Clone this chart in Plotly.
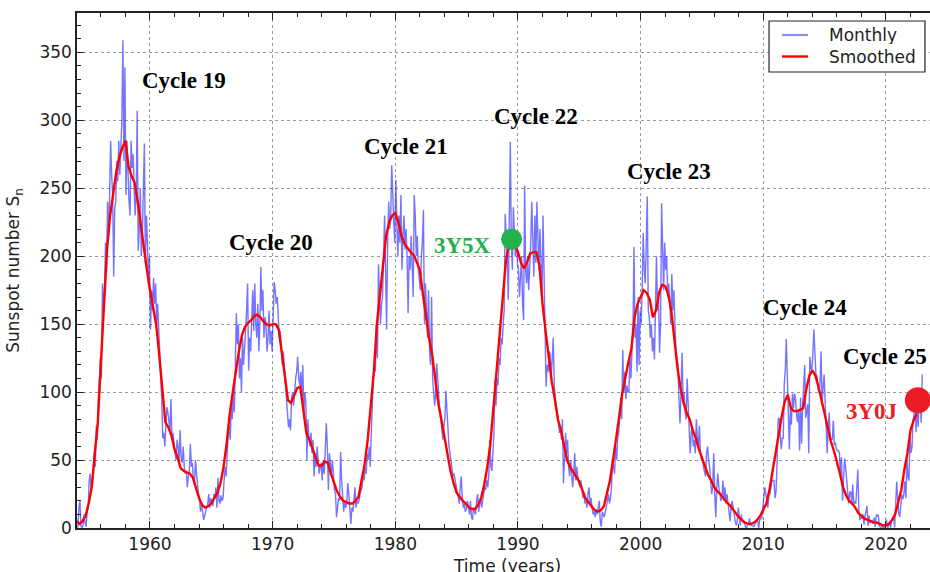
import plotly.graph_objects as go

# ---------------- data ----------------
# Monthly sunspot numbers, one value per month, blocks by decade
monthly_1950s = [  # 1954-1959
    0.3, 0.8, 15.0, 19.7, 1.3, 0.4, 1.8, 10.0, 3.8, 1.0, 11.3, 14.4,
    35, 40, 28, 32, 38, 55, 45, 75, 65, 95, 115, 125,
    110, 180, 160, 175, 210, 190, 240, 215, 245, 285, 260, 245,
    185, 235, 240, 270, 255, 285, 260, 285, 300, 359, 270, 339,
    245, 285, 260, 240, 230, 285, 265, 275, 250, 230, 245, 307,
    204, 220, 250, 200, 215, 240, 283, 195, 230, 210, 180, 200,
]
monthly_1960s = [
    146, 175, 160, 184, 165, 180, 150, 165, 140, 130, 110, 95,
    66, 70, 60, 75, 89, 85, 78, 72, 95, 65, 70, 60,
    55, 50, 65, 60, 47, 72, 52, 48, 60, 45, 40, 42,
    30, 38, 42, 62, 45, 48, 35, 32, 50, 40, 30, 25,
    20, 12, 18, 10, 6, 9, 12, 14, 18, 25, 15, 22,
    18, 16, 25, 22, 30, 15, 37, 20, 18, 24, 20, 22,
    35, 45, 38, 55, 70, 75, 65, 90, 80, 100, 85, 120,
    158, 135, 150, 110, 125, 100, 140, 120, 130, 145, 160, 180,
    116, 140, 130, 165, 175, 145, 180, 150, 140, 165, 130, 150,
    192, 160, 175, 140, 155, 150, 130, 140, 160, 135, 145, 130,
]
monthly_1970s = [
    150, 181, 175, 165, 170, 150, 140, 145, 135, 120, 130, 115,
    110, 95, 85, 74, 80, 72, 95, 100, 90, 105, 110, 115,
    126, 110, 105, 115, 95, 120, 85, 100, 92, 50, 80, 65,
    60, 70, 55, 65, 38, 55, 45, 60, 50, 40, 45, 48,
    35, 50, 40, 55, 77, 60, 28, 55, 45, 40, 50, 38,
    28, 25, 8, 15, 22, 20, 56, 35, 18, 12, 20, 15,
    18, 33, 25, 10, 3, 15, 12, 20, 30, 15, 20, 18,
    20, 25, 28, 30, 40, 35, 45, 40, 55, 50, 60, 45,
    70, 95, 110, 120, 115, 150, 125, 194, 160, 150, 165, 170,
    200, 230, 190, 146, 210, 240, 220, 230, 267, 240, 225, 210,
]
monthly_1980s = [
    256, 225, 200, 230, 210, 245, 190, 215, 230, 205, 220, 200,
    158, 200, 190, 215, 185, 170, 245, 230, 200, 215, 190, 180,
    175, 200, 210, 234, 150, 180, 160, 140, 175, 130, 120, 170,
    110, 95, 90, 100, 121, 110, 95, 85, 80, 70, 65, 75,
    80, 101, 85, 70, 60, 55, 48, 42, 38, 40, 35, 30,
    25, 20, 18, 30, 38, 22, 15, 18, 12, 14, 20, 16,
    10, 20, 8, 6, 15, 12, 10, 20, 25, 12, 18, 22,
    15, 20, 25, 30, 28, 35, 30, 40, 65, 45, 42, 55,
    70, 109, 90, 110, 105, 125, 120, 140, 135, 150, 160, 231,
    215, 200, 168, 230, 284, 210, 190, 236, 220, 200, 215, 195,
]
monthly_1990s = [
    190, 170, 185, 200, 165, 153, 252, 190, 180, 200, 175, 190,
    210, 240, 200, 185, 230, 195, 240, 210, 190, 220, 180, 168,
    230, 185, 150, 104, 120, 115, 130, 128, 110, 125, 140, 105,
    95, 89, 85, 80, 70, 75, 65, 80, 33, 60, 70, 55,
    65, 45, 38, 50, 42, 30, 40, 55, 35, 45, 38, 32,
    30, 35, 28, 22, 25, 18, 20, 15, 25, 30, 18, 22,
    15, 10, 12, 8, 14, 10, 15, 20, 5, 1, 12, 10,
    8, 12, 15, 20, 25, 18, 22, 30, 50, 45, 40, 60,
    50, 65, 70, 80, 96, 80, 131, 100, 115, 95, 105, 100,
    100, 125, 110, 130, 145, 207, 140, 150, 115, 170, 120, 160,
]
monthly_2000s = [
    150, 175, 217, 190, 180, 210, 244, 160, 155, 140, 150, 130,
    140, 124, 180, 200, 160, 170, 129, 150, 239, 190, 175, 210,
    190, 200, 170, 180, 165, 150, 187, 160, 175, 140, 130, 125,
    120, 95, 77, 99, 129, 95, 100, 85, 80, 110, 90, 70,
    55, 70, 75, 60, 65, 55, 80, 65, 60, 75, 55, 50,
    50, 45, 40, 38, 55, 60, 50, 45, 35, 25, 30, 55,
    25, 8, 30, 40, 30, 25, 20, 22, 35, 20, 30, 18,
    25, 18, 10, 5, 15, 20, 15, 8, 5, 2, 5, 15,
    5, 2, 10, 5, 4, 5, 1, 0, 2, 3, 7, 2,
    2, 2, 1, 2, 4, 5, 5, 0, 6, 7, 7, 16,
]
monthly_2010s = [
    20, 30, 25, 18, 15, 25, 25, 30, 35, 35, 35, 22,
    27, 49, 80, 81, 66, 58, 66, 66, 106, 116, 139, 106,
    91, 58, 88, 76, 99, 88, 99, 95, 84, 78, 87, 57,
    96, 62, 90, 112, 120, 81, 86, 91, 55, 126, 118, 116,
    128, 146, 128, 113, 112, 102, 100, 106, 130, 90, 103, 113,
    93, 67, 55, 74, 85, 64, 66, 65, 79, 61, 63, 58,
    57, 57, 55, 38, 52, 20, 32, 51, 45, 34, 21, 18,
    26, 27, 17, 32, 18, 19, 18, 33, 43, 13, 5.7, 8.2,
    7, 10, 2.5, 9, 13, 16, 1.6, 9, 3.5, 4.9, 5.9, 3.1,
    7.7, 0.8, 9.4, 9.1, 9.9, 1.2, 0.9, 0.5, 1.1, 0.4, 0.5, 1.5,
]
monthly_2020s = [
    6.2, 0.2, 1.5, 5.2, 0.2, 5.8, 6.1, 7.5, 0.6, 14.4, 34.0, 21.8,
    10.4, 8.2, 17.2, 24.5, 21.2, 25.0, 34.3, 22.0, 51.3, 37.4, 34.8, 67.5,
    55.3, 59.7, 78.5, 84.1, 96.5, 70.5, 91.4, 74.6, 96.0, 95.5, 77.6, 113.1,
]
monthly_blocks = [(1954, monthly_1950s), (1960, monthly_1960s), (1970, monthly_1970s),
                  (1980, monthly_1980s), (1990, monthly_1990s), (2000, monthly_2000s),
                  (2010, monthly_2010s), (2020, monthly_2020s)]

# Smoothed sunspot number, one value per quarter of a year
smoothed_1950s = [5, 3, 5, 9, 18, 30, 55, 78, 122, 165, 205, 230,
                  248, 262, 273, 280, 285, 266, 259, 254, 240, 222, 205, 190]
smoothed_1960s = [175, 162, 150, 128, 100, 78, 74, 68, 58, 52, 44, 42,
                  41, 40, 37, 30, 22, 17, 15, 16, 18, 22, 26, 33,
                  45, 62, 84, 100, 116, 130, 142, 148, 151, 153, 156, 157,
                  155, 152, 150, 149]
smoothed_1970s = [150, 150, 146, 128, 108, 94, 92, 97, 103, 104, 88, 70,
                  65, 58, 52, 46, 46, 49, 48, 40, 33, 27, 23, 20,
                  19, 18, 18, 20, 23, 35, 47, 65, 92, 115, 150, 172,
                  195, 215, 225, 230]
smoothed_1980s = [232, 225, 215, 209, 206, 203, 201, 196, 190, 172, 155, 140,
                  128, 110, 92, 80, 68, 55, 42, 33, 26, 23, 20, 18,
                  15, 14, 14, 17, 22, 32, 45, 62, 88, 115, 145, 170,
                  195, 209, 214, 208]
smoothed_1990s = [203, 195, 191, 196, 202, 203, 203, 193, 165, 145, 125, 108,
                  95, 80, 72, 62, 50, 45, 41, 38, 34, 28, 22, 19,
                  16, 13, 12, 13, 16, 25, 35, 50, 68, 82, 99, 112,
                  122, 132, 155, 165]
smoothed_2000s = [170, 175, 173, 168, 155, 160, 173, 179, 178, 172, 160, 140,
                  118, 103, 92, 85, 80, 72, 66, 58, 52, 45, 39, 35,
                  30, 27, 25, 22, 19, 17, 14, 11, 8, 6, 4, 3,
                  3, 4, 6, 9]
smoothed_2010s = [13, 18, 28, 42, 55, 68, 82, 93, 98, 88, 86, 86,
                  87, 88, 102, 112, 116, 112, 104, 95, 84, 74, 64, 57,
                  49, 40, 30, 24, 20, 18, 15, 11, 9, 7, 6, 5,
                  4, 4, 3, 2]
smoothed_2020s = [2, 3, 6, 10, 19, 28, 43, 55, 72, 79, 84]
smoothed_blocks = [(1954, smoothed_1950s), (1960, smoothed_1960s), (1970, smoothed_1970s),
                   (1980, smoothed_1980s), (1990, smoothed_1990s), (2000, smoothed_2000s),
                   (2010, smoothed_2010s), (2020, smoothed_2020s)]

cycle_names = ["Cycle 19", "Cycle 20", "Cycle 21", "Cycle 22", "Cycle 23", "Cycle 24", "Cycle 25"]
cycle_label_years = [1962.8, 1969.9, 1980.85, 1991.45, 2002.35, 2013.4, 2019.95]
cycle_label_values = [329, 210, 281, 303, 262, 162, 126]

marker_names = ["3Y5X", "3Y0J"]
marker_years = [1989.48, 2022.6]
marker_values = [212.5, 94]
marker_label_years = [1985.5, 2018.8]
marker_label_values = [208, 86]
marker_colors = ["#22b14c", "#ed1c24"]

series_names = ["Monthly", "Smoothed"]
series_colors = ["rgba(30,30,255,0.62)", "#ff0000"]
legend_colors = ["#8c8cff", "#ff0000"]

# ---------------- build series ----------------
mx, my = [], []
for start, vals in monthly_blocks:
    for i, v in enumerate(vals):
        mx.append(start + i / 12 + 1 / 24)
        my.append(v)
sx, sy = [], []
for start, vals in smoothed_blocks:
    for i, v in enumerate(vals):
        sx.append(start + i / 4)
        sy.append(v)

fig = go.Figure()
fig.add_trace(go.Scatter(x=mx, y=my, mode="lines", name=series_names[0], showlegend=False,
                         line=dict(color=series_colors[0], width=1.4)))
fig.add_trace(go.Scatter(x=sx, y=sy, mode="lines", name=series_names[1], showlegend=False,
                         line=dict(color=series_colors[1], width=2.4)))
for i in range(len(marker_names)):
    fig.add_trace(go.Scatter(x=[marker_years[i]], y=[marker_values[i]], mode="markers",
                             showlegend=False, cliponaxis=False,
                             marker=dict(color=marker_colors[i], size=21 if i == 0 else 26,
                                         line=dict(width=0))))

serif = "Liberation Serif, Times New Roman, serif"
for name, xv, yv in zip(cycle_names, cycle_label_years, cycle_label_values):
    fig.add_annotation(x=xv, y=yv, text=name, showarrow=False,
                       font=dict(family=serif, size=23, color="black", weight="bold"))
for name, xv, yv, c in zip(marker_names, marker_label_years, marker_label_values, marker_colors):
    fig.add_annotation(x=xv, y=yv, text=name, showarrow=False,
                       font=dict(family=serif, size=23, color=c, weight="bold"))

# legend box (matplotlib style), placed in paper coordinates
fig.add_shape(type="rect", xref="paper", yref="paper", x0=0.8113, x1=0.9941, y0=0.8854, y1=0.9845,
              line=dict(color="#222", width=1.2), fillcolor="white", layer="above")
for k, ly in enumerate([0.9573, 0.9155]):
    fig.add_shape(type="line", xref="paper", yref="paper", x0=0.8265, x1=0.8570, y0=ly, y1=ly,
                  line=dict(color=legend_colors[k], width=2.2 if k == 0 else 2.4), layer="above")
    fig.add_annotation(xref="paper", yref="paper", x=0.8793, y=ly, text=series_names[k],
                       showarrow=False, xanchor="left", yanchor="middle", height=19,
                       font=dict(family="DejaVu Sans", size=17, color="#222"))

axis_font = dict(family="DejaVu Sans", size=17, color="#222")
# x-axis title written as an annotation so it can sit at the very bottom edge
fig.add_annotation(xref="paper", yref="paper", x=0.504, y=-0.074, text="Time (years)",
                   showarrow=False, xanchor="center", yanchor="middle", font=axis_font)

fig.update_layout(
    width=930, height=572,
    margin=dict(l=77, r=0, t=13, b=44),
    paper_bgcolor="white", plot_bgcolor="white",
    font=axis_font,
    showlegend=False,
    xaxis=dict(range=[1954.05, 2023.59], tick0=1960, dtick=10,
               ticks="inside", ticklen=7, tickwidth=1, tickcolor="#222",
               showline=True, linecolor="#222", linewidth=1.5, mirror="ticks",
               showgrid=True, gridcolor="#9a9a9a", griddash="dot", gridwidth=1,
               zeroline=False, tickfont=axis_font,
               minor=dict(dtick=2, ticks="inside", ticklen=4, tickcolor="#222", showgrid=False),
               automargin=False),
    yaxis=dict(range=[0, 379], tick0=0, dtick=50,
               ticks="inside", ticklen=7, tickwidth=1, tickcolor="#222",
               showline=True, linecolor="#222", linewidth=1.5,
               showgrid=True, gridcolor="#9a9a9a", griddash="dot", gridwidth=1,
               zeroline=False, tickfont=axis_font,
               minor=dict(dtick=10, ticks="inside", ticklen=4, tickcolor="#222", showgrid=False),
               title=dict(text="Sunspot number S<sub>n</sub>", font=axis_font, standoff=15),
               automargin=False),
)

# remove the page's default body margin so the figure sits at the window's corner
page_js = ("document.body.style.margin='0';document.body.style.padding='0';"
           "document.documentElement.style.overflow='hidden';")
fig.write_html("out.html", post_script=page_js, config={"displayModeBar": False})
